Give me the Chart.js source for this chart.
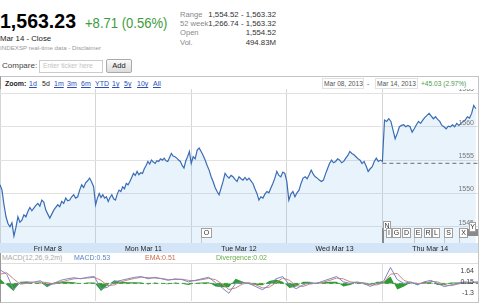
<!DOCTYPE html>
<html>
<head>
<meta charset="utf-8">
<script src="https://cdn.jsdelivr.net/npm/chart.js@4.4.1/dist/chart.umd.min.js"></script>
<style>
  body { margin:0; width:480px; height:303px; overflow:hidden; background:#fff; position:relative; font-family:"Liberation Sans", Arial, sans-serif; }
  .a { position:absolute; white-space:nowrap; line-height:1; }
  .v { font-size:7px; }
  .lnk { color:#2a4fb8; text-decoration:underline; }
  .flag { position:absolute; height:8px; border:1px solid #a0a0a0; background:#fff; font:7px "Liberation Sans", sans-serif; line-height:8px; text-align:center; color:#333; }
  .pole { position:absolute; width:1px; background:#c8c8c8; }
  canvas { position:absolute; left:0; }
</style>
</head>
<body>
<!-- quote header -->
<div class="a" style="left:0;top:10px;font-size:21px;font-weight:bold;color:#000;transform:scaleX(0.93);transform-origin:left">1,563.23</div>
<div class="a" style="left:85px;top:15px;font-size:15px;color:#3c9b3c;transform:scaleX(0.87);transform-origin:left">+8.71 (0.56%)</div>
<div class="a" style="left:0;top:35px;font-size:7.8px;color:#222">Mar 14 - Close</div>
<div class="a" style="left:0;top:45px;font-size:6.2px;color:#999">INDEXSP real-time data - Disclaimer</div>

<div class="a" style="left:180px;top:10.5px;font-size:7.6px;color:#888">Range</div>
<div class="a" style="left:180px;top:20px;font-size:7.6px;color:#888">52 week</div>
<div class="a" style="left:180px;top:29px;font-size:7.6px;color:#888">Open</div>
<div class="a" style="left:180px;top:38.5px;font-size:7.6px;color:#888">Vol.</div>
<div class="a" style="left:196px;width:80px;text-align:right;top:10.5px;font-size:7.8px;color:#333">1,554.52 - 1,563.32</div>
<div class="a" style="left:196px;width:80px;text-align:right;top:20px;font-size:7.8px;color:#333">1,266.74 - 1,563.32</div>
<div class="a" style="left:196px;width:80px;text-align:right;top:29px;font-size:7.8px;color:#333">1,554.52</div>
<div class="a" style="left:196px;width:80px;text-align:right;top:38.5px;font-size:7.8px;color:#333">494.83M</div>

<!-- compare row -->
<div class="a" style="left:2px;top:62px;font-size:8px;color:#444">Compare:</div>
<div class="a" style="left:39px;top:60px;width:62px;height:11px;border:1px solid #ccc;"></div>
<div class="a" style="left:43px;top:63px;font-size:6.8px;color:#c4c4c4">Enter ticker here</div>
<div class="a" style="left:106px;top:59px;width:24px;height:12px;border:1px solid #aaa;border-radius:2px;background:linear-gradient(#fafafa,#dcdcdc);font-size:7.5px;color:#222;text-align:center;line-height:12px">Add</div>

<!-- chart frame -->
<div class="a" style="left:0;top:76px;width:477px;height:225px;border:1px solid #c4c4c4;border-left-color:#999"></div>
<div class="a v" style="left:5px;top:80px;font-weight:bold;color:#222">Zoom:</div>
<div class="a v lnk" style="left:29px;top:80px">1d</div>
<div class="a v" style="left:42px;top:80px;color:#222">5d</div>
<div class="a v lnk" style="left:54px;top:80px">1m</div>
<div class="a v lnk" style="left:67px;top:80px">3m</div>
<div class="a v lnk" style="left:81px;top:80px">6m</div>
<div class="a v lnk" style="left:95px;top:80px">YTD</div>
<div class="a v lnk" style="left:112px;top:80px">1y</div>
<div class="a v lnk" style="left:124px;top:80px">5y</div>
<div class="a v lnk" style="left:137px;top:80px">10y</div>
<div class="a v lnk" style="left:153px;top:80px">All</div>

<div class="a" style="left:322px;top:78px;width:40px;height:9px;border:1px solid #e2e2e2"></div>
<div class="a" style="left:375px;top:78px;width:41px;height:9px;border:1px solid #e2e2e2"></div>
<div class="a v" style="left:324px;top:80.5px;color:#555;font-size:6.6px">Mar 08, 2013</div>
<div class="a v" style="left:367px;top:80.5px;color:#555;font-size:6.6px">-</div>
<div class="a v" style="left:377px;top:80.5px;color:#555;font-size:6.6px">Mar 14, 2013</div>
<div class="a v" style="left:421px;top:80.5px;color:#4ba04b;font-size:6.6px">+45.03 (2.97%)</div>

<canvas id="price" width="478" height="164" style="top:89px"></canvas>

<!-- news flags -->
<div class="pole" style="left:201px;top:237px;height:6px"></div>
<div class="flag" style="left:201px;top:228px;width:9px">O</div>
<div class="pole" style="left:382px;top:228px;height:15px;width:2px;background:#888"></div>
<div class="flag" style="left:383px;top:221px;width:6px">N</div>
<div class="flag" style="left:386px;top:228px;width:4px">I</div>
<div class="flag" style="left:392px;top:228px;width:7px">G</div>
<div class="flag" style="left:402px;top:228px;width:7px">D</div>
<div class="pole" style="left:414px;top:237px;height:6px"></div>
<div class="flag" style="left:414px;top:228px;width:6px">E</div>
<div class="flag" style="left:424px;top:228px;width:6px">R</div>
<div class="flag" style="left:432px;top:228px;width:6px">L</div>
<div class="pole" style="left:444px;top:237px;height:6px"></div>
<div class="flag" style="left:444px;top:228px;width:7px">S</div>
<div class="pole" style="left:459px;top:237px;height:6px"></div>
<div class="flag" style="left:459px;top:228px;width:7px">X</div>
<div class="a" style="left:467px;top:229px;width:11px;height:7px;background:#8a8a8a"></div>
<div class="flag" style="left:469px;top:222px;width:5px">Y</div>

<!-- MACD header -->
<div class="a v" style="left:2px;top:253.5px;color:#aaa">MACD(12,26,9,2m)</div>
<div class="a v" style="left:74px;top:253.5px;color:#5b83c4">MACD:0.53</div>
<div class="a v" style="left:145px;top:253.5px;color:#cf6a4c">EMA:0.51</div>
<div class="a v" style="left:216px;top:253.5px;color:#6aab4e">Divergence:0.02</div>
<div class="a" style="left:1px;top:263px;width:477px;height:1px;background:#dedede"></div>

<canvas id="macd" width="478" height="37" style="top:264px"></canvas>

<script>
// 2-minute S&P 500 quotes, one array per session
const dayLabels = ['Fri Mar 8', 'Mon Mar 11', 'Tue Mar 12', 'Wed Mar 13', 'Thu Mar 14'];
const priceTicks = [1545, 1550, 1555, 1560, 1565];
const openValue = 1554.52;

const fri = [1551.3, 1550.5, 1548.3, 1546.5, 1545.5, 1545.0, 1545.6, 1543.6, 1544.9, 1546.5, 1545.7, 1546.0,
  1546.8, 1546.5, 1547.3, 1547.9, 1547.4, 1547.8, 1548.2, 1548.5, 1548.1, 1549.0, 1548.7, 1547.5, 1546.9,
  1546.3, 1546.9, 1547.5, 1547.9, 1548.3, 1548.0, 1548.8, 1548.5, 1549.3, 1548.9, 1549.0, 1549.5, 1549.8,
  1549.3, 1549.5, 1550.5, 1551.3, 1550.9, 1551.6, 1551.9, 1552.3, 1551.7, 1551.0];
const mon = [1548.3, 1549.3, 1550.0, 1549.4, 1549.8, 1549.3, 1549.5, 1548.8, 1549.4, 1549.8, 1549.2, 1549.0,
  1549.9, 1550.5, 1550.3, 1551.0, 1550.7, 1551.5, 1551.3, 1551.8, 1552.4, 1553.0, 1552.7, 1553.3, 1552.8,
  1553.1, 1553.0, 1553.7, 1554.2, 1554.8, 1554.4, 1555.0, 1554.7, 1554.5, 1554.9, 1554.8, 1555.2, 1555.0,
  1555.3, 1554.9, 1554.8, 1555.4, 1556.0, 1555.6, 1555.5, 1555.3, 1555.0, 1554.8, 1554.2, 1553.8, 1554.9,
  1555.5, 1556.3];
const tue = [1554.5, 1555.5, 1555.2, 1556.5, 1556.8, 1556.3, 1555.7, 1555.0, 1554.2, 1553.5, 1552.5, 1551.8,
  1550.9, 1550.3, 1549.8, 1550.8, 1551.8, 1553.0, 1552.6, 1552.3, 1552.7, 1552.5, 1552.1, 1551.8, 1552.5,
  1552.2, 1552.0, 1552.4, 1552.0, 1552.3, 1551.9, 1551.5, 1550.7, 1550.0, 1549.0, 1549.5, 1549.3, 1549.9,
  1550.3, 1550.1, 1550.8, 1551.5, 1552.3, 1553.3, 1552.7, 1552.5, 1553.2, 1553.0];
const wed = [1551.8, 1549.0, 1549.9, 1550.3, 1549.5, 1550.1, 1550.5, 1551.5, 1552.3, 1552.5, 1552.2, 1552.8,
  1553.5, 1552.9, 1552.5, 1552.3, 1552.0, 1551.8, 1552.0, 1552.9, 1553.7, 1554.5, 1555.0, 1554.6, 1554.8,
  1555.2, 1555.0, 1554.6, 1554.8, 1555.3, 1555.7, 1556.3, 1556.0, 1555.8, 1555.5, 1555.2, 1555.0, 1554.5,
  1554.8, 1554.1, 1553.3, 1553.7, 1554.0, 1554.8, 1555.3, 1554.8, 1555.0];
const thu = [1554.8, 1561.0, 1560.8, 1561.2, 1560.8, 1559.5, 1558.2, 1559.0, 1560.0, 1560.2, 1560.3, 1560.0,
  1560.2, 1560.0, 1559.2, 1559.7, 1560.3, 1560.8, 1560.5, 1561.0, 1561.4, 1561.7, 1562.0, 1561.6, 1561.2,
  1561.5, 1561.1, 1560.8, 1560.2, 1560.0, 1559.7, 1560.1, 1560.0, 1560.3, 1560.0, 1560.5, 1560.2, 1560.5,
  1560.8, 1561.0, 1561.5, 1561.3, 1562.0, 1563.2, 1562.7];

const macdTicks = [1.64, 0.15, -1.3];
const macdLine = [1.8, 1.2, -0.8, 0.1, 0.2, 0.15, 0.35, -0.4, 0.0, 0.4, 0.6, 0.74, 0.6, 0.8, 0.9, -0.7, -0.5,
  0.2, 0.4, 0.6, 0.8, 0.9, 0.6, 0.8, 0.6, 0.4, 0.6, 0.5, 0.2, 0.4, 0.6, 0.8, 0.1, -0.6, -1.3, 0.0, 0.15, 0.0,
  -0.43, -0.84, -0.2, 0.6, 0.9, -0.2, -0.7, -0.2, 0.1, 0.0, 0.3, 0.6, 0.9, 0.2, 0.0, 0.2, 0.0, -0.4, 0.0, 0.3,
  2.1, 0.5, 0.0, 0.2, -0.2, 0.2, 0.4, 0.0, -0.43, -0.2, 0.0, 0.2, 0.1, 0.2];
const emaLine = [1.2, 1.4, 0.6, -0.1, 0.0, 0.15, 0.2, 0.1, -0.1, 0.15, 0.4, 0.6, 0.65, 0.7, 0.8, 0.4, -0.3,
  -0.2, 0.2, 0.45, 0.65, 0.8, 0.75, 0.7, 0.65, 0.5, 0.5, 0.55, 0.4, 0.35, 0.5, 0.65, 0.5, -0.1, -0.8, -0.6,
  -0.1, 0.1, -0.2, -0.6, -0.5, 0.1, 0.7, 0.4, -0.3, -0.4, -0.1, 0.05, 0.15, 0.4, 0.7, 0.6, 0.2, 0.1, 0.1,
  -0.2, -0.2, 0.1, 1.2, 1.3, 0.4, 0.1, 0.0, 0.0, 0.25, 0.2, -0.2, -0.3, -0.1, 0.1, 0.15, 0.15];
const divergence = [0.6, -0.2, -1.0, 0.2, 0.2, 0.0, 0.15, -0.5, 0.1, 0.25, 0.2, 0.14, -0.05, 0.1, 0.1, -1.0,
  -0.2, 0.4, 0.2, 0.15, 0.15, 0.1, -0.15, 0.1, -0.05, -0.1, 0.1, -0.05, -0.2, 0.05, 0.1, 0.15, -0.4, -0.5,
  -0.5, 0.6, 0.25, -0.1, -0.2, -0.25, 0.3, 0.5, 0.2, -0.6, -0.4, 0.2, 0.2, -0.05, 0.15, 0.2, 0.2, -0.4, -0.2,
  0.1, -0.1, -0.2, 0.2, 0.2, 0.9, -0.8, -0.4, 0.1, -0.2, 0.2, 0.15, -0.2, -0.25, 0.1, 0.1, 0.1, -0.05, 0.05];

// x = session index + fraction of the session elapsed
const pricePoints = [];
[fri, mon, tue, wed, thu].forEach((arr, d) => {
  arr.forEach((v, i) => pricePoints.push({ x: d + i / arr.length, y: v }));
});
const toXY = arr => arr.map((v, i) => ({ x: i * 5 / (arr.length - 1), y: v }));

const smallFont = { family: 'Liberation Sans', size: 7 };

new Chart(document.getElementById('price'), {
  type: 'line',
  data: {
    datasets: [{
      data: [{ x: 4, y: openValue }, { x: 5, y: openValue }],
      borderColor: '#6a6a6a',
      borderWidth: 1,
      borderDash: [4, 3],
      pointRadius: 0,
      fill: false
    }, {
      data: pricePoints,
      borderColor: '#3a6cb4',
      borderWidth: 1.2,
      backgroundColor: 'rgba(110,175,235,0.15)',
      fill: 'start',
      pointRadius: 0,
      tension: 0
    }]
  },
  options: {
    responsive: false,
    animation: false,
    layout: { padding: 0 },
    plugins: { legend: { display: false }, tooltip: { enabled: false } },
    scales: {
      x: {
        type: 'linear',
        min: 0,
        max: 5,
        backgroundColor: '#d4e5f7',
        afterBuildTicks: s => { s.ticks = [0.5, 1.5, 2.5, 3.5, 4.5].map(v => ({ value: v })); },
        afterFit: s => { s.height = 10; },
        ticks: {
          callback: (v, i) => dayLabels[i],
          font: { family: 'Liberation Sans', size: 7 },
          color: '#222',
          padding: 1.5,
          maxRotation: 0,
          autoSkip: false
        },
        grid: { offset: true, color: '#d6d6d6', drawTicks: false },
        border: { display: false }
      },
      y: {
        position: 'right',
        min: 1542.57,
        max: 1565.63,
        afterBuildTicks: s => { s.ticks = priceTicks.map(v => ({ value: v })); },
        afterFit: s => { s.width = 0; },
        ticks: { z: 1, mirror: true, padding: -4, labelOffset: -4, font: smallFont, color: '#777', callback: v => String(v) },
        grid: { color: '#e2e2e2', drawTicks: false },
        border: { display: false }
      }
    }
  }
});

new Chart(document.getElementById('macd'), {
  type: 'line',
  data: {
    datasets: [{
      data: toXY(macdLine),
      borderColor: '#7f86c2',
      borderWidth: 1,
      pointRadius: 0,
      fill: false
    }, {
      data: toXY(emaLine),
      borderColor: '#c98582',
      borderWidth: 1,
      pointRadius: 0,
      fill: false
    }, {
      data: [{ x: 0, y: 0 }, { x: 5, y: 0 }],
      borderColor: '#4a9a4a',
      borderWidth: 1,
      borderDash: [4, 3],
      pointRadius: 0,
      fill: false
    }, {
      data: toXY(divergence),
      borderWidth: 0,
      backgroundColor: '#2f9b35',
      pointRadius: 0,
      fill: 'origin'
    }]
  },
  options: {
    responsive: false,
    animation: false,
    layout: { padding: 0 },
    plugins: { legend: { display: false }, tooltip: { enabled: false } },
    scales: {
      x: {
        type: 'linear',
        min: 0,
        max: 5,
        afterBuildTicks: s => { s.ticks = [1, 2, 3, 4].map(v => ({ value: v })); },
        afterFit: s => { s.height = 0; },
        ticks: { display: false },
        grid: { color: '#dcdcdc', drawTicks: false },
        border: { display: false }
      },
      y: {
        position: 'right',
        min: -2.29,
        max: 2.52,
        afterBuildTicks: s => { s.ticks = macdTicks.map(v => ({ value: v })); },
        afterFit: s => { s.width = 0; },
        ticks: { z: 1, mirror: true, padding: -4, font: smallFont, color: '#444', callback: v => String(v) },
        grid: { display: false },
        border: { display: false }
      }
    }
  }
});
</script>
</body>
</html>
